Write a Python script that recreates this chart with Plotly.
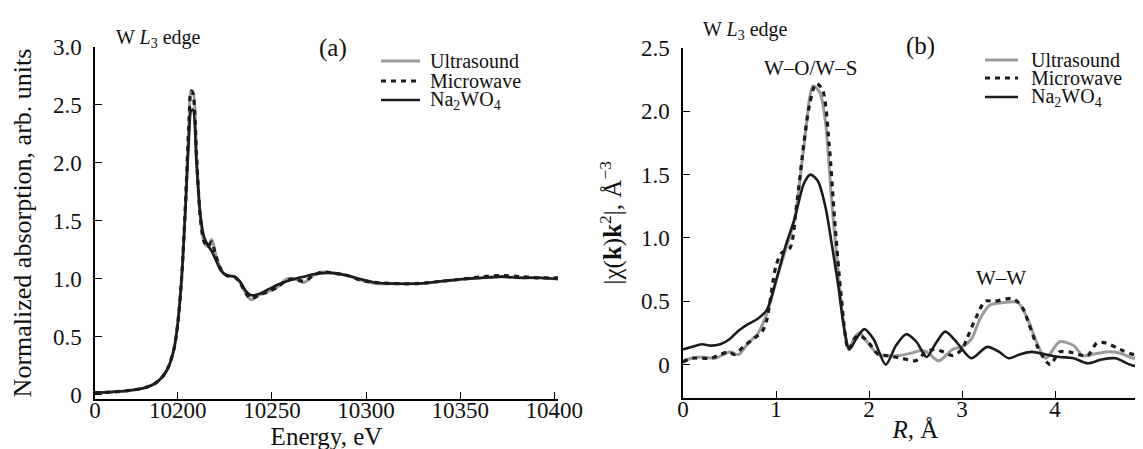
import plotly.graph_objects as go

# ---- panel (a): XANES, W L3 edge ----
energy = [10156, 10165, 10175, 10183, 10188, 10192, 10195, 10198, 10200, 10202,
          10204, 10206, 10207, 10208, 10210, 10212, 10214, 10216, 10218, 10220,
          10223, 10226, 10230, 10233, 10236, 10239, 10243, 10248, 10253, 10258,
          10262, 10267, 10272, 10277, 10283, 10290, 10297, 10305, 10315, 10327,
          10340, 10352, 10362, 10372, 10382, 10392, 10402]
xanes_ultrasound = [0.02, 0.025, 0.04, 0.065, 0.10, 0.16, 0.24, 0.40, 0.62, 1.0,
                    1.62, 2.38, 2.62, 2.62, 2.05, 1.52, 1.32, 1.28, 1.34, 1.22,
                    1.08, 1.03, 1.02, 0.97, 0.88, 0.82, 0.86, 0.89, 0.93, 1.0,
                    1.0, 0.97, 1.03, 1.06, 1.05, 1.03, 0.99, 0.96, 0.96, 0.96,
                    0.98, 1.0, 1.01, 1.02, 1.01, 1.01, 1.0]
xanes_microwave = [0.02, 0.025, 0.04, 0.065, 0.10, 0.16, 0.24, 0.40, 0.62, 1.0,
                   1.62, 2.38, 2.62, 2.60, 2.04, 1.52, 1.32, 1.28, 1.32, 1.21,
                   1.08, 1.03, 1.02, 0.97, 0.88, 0.83, 0.86, 0.89, 0.93, 0.99,
                   1.0, 0.98, 1.03, 1.06, 1.05, 1.03, 0.99, 0.97, 0.96, 0.96,
                   0.98, 1.0, 1.02, 1.03, 1.02, 1.01, 1.01]
xanes_na2wo4 = [0.02, 0.025, 0.04, 0.065, 0.10, 0.16, 0.24, 0.40, 0.62, 1.0,
                1.58, 2.25, 2.45, 2.46, 1.98, 1.55, 1.36, 1.29, 1.24, 1.17,
                1.07, 1.03, 1.02, 0.98, 0.90, 0.86, 0.87, 0.91, 0.95, 0.98,
                1.0, 1.02, 1.04, 1.05, 1.05, 1.03, 1.0, 0.97, 0.96, 0.96,
                0.98, 1.0, 1.01, 1.02, 1.01, 1.01, 1.0]

# ---- panel (b): Fourier transforms ----
r_ultrasound = [0, 0.1, 0.2, 0.35, 0.5, 0.6, 0.7, 0.8, 0.9, 1.0,
                1.1, 1.2, 1.3, 1.4, 1.47, 1.53, 1.6, 1.67, 1.73, 1.78,
                1.85, 1.9, 2.0, 2.1, 2.3, 2.45, 2.55, 2.62, 2.75, 2.9,
                3.0, 3.1, 3.2, 3.3, 3.45, 3.6, 3.7, 3.8, 3.9, 4.05,
                4.2, 4.3, 4.4, 4.55, 4.7, 4.85, 5.0]
ft_ultrasound = [0.03, 0.05, 0.06, 0.05, 0.1, 0.08, 0.17, 0.24, 0.4, 0.66,
                 0.9, 1.15, 1.72, 2.2, 2.15, 1.93, 1.28, 0.72, 0.3, 0.12,
                 0.22, 0.25, 0.16, 0.08, 0.07, 0.09, 0.11, 0.1, 0.03, 0.12,
                 0.14, 0.2, 0.37, 0.47, 0.49, 0.49, 0.37, 0.18, 0.05, 0.18,
                 0.15, 0.07, 0.08, 0.1, 0.09, 0.05, 0.1]
r_microwave = [0, 0.1, 0.3, 0.4, 0.5, 0.55, 0.65, 0.75, 0.85, 0.9,
               1.0, 1.06, 1.15, 1.22, 1.3, 1.36, 1.43, 1.5, 1.57, 1.63,
               1.7, 1.78, 1.85, 1.9, 2.0, 2.1, 2.2, 2.35, 2.5, 2.6,
               2.7, 2.8, 2.9, 3.0, 3.05, 3.15, 3.25, 3.35, 3.55, 3.65,
               3.72, 3.8, 3.88, 3.95, 4.05, 4.15, 4.25, 4.35, 4.45, 4.55,
               4.7, 4.85, 5.0]
ft_microwave = [0.02, 0.05, 0.05, 0.08, 0.1, 0.08, 0.14, 0.2, 0.26, 0.35,
                0.78, 0.88, 0.92, 1.25, 1.75, 2.05, 2.22, 2.17, 1.75, 1.15,
                0.55, 0.12, 0.21, 0.23, 0.17, 0.08, 0.07, 0.05, 0.03, 0.09,
                0.12, 0.1, 0.07, 0.12, 0.2, 0.37, 0.5, 0.5, 0.52, 0.45,
                0.32, 0.16, 0.05, 0.0, 0.1, 0.1, 0.08, 0.07, 0.17, 0.17,
                0.12, 0.08, 0.1]
r_na2wo4 = [0, 0.1, 0.2, 0.3, 0.4, 0.5, 0.6, 0.7, 0.8, 0.9,
            1.0, 1.1, 1.2, 1.3, 1.37, 1.45, 1.53, 1.6, 1.67, 1.73,
            1.79, 1.86, 1.95, 2.05, 2.18, 2.29, 2.4, 2.51, 2.62, 2.72,
            2.82, 2.95, 3.1, 3.27, 3.4, 3.5, 3.62, 3.75, 3.9, 4.05,
            4.2, 4.35, 4.5, 4.65, 4.85, 5.0]
ft_na2wo4 = [0.12, 0.14, 0.16, 0.15, 0.16, 0.2, 0.27, 0.32, 0.36, 0.43,
             0.66, 0.93, 1.15, 1.43, 1.5, 1.45, 1.25, 0.95, 0.62, 0.3,
             0.12, 0.2, 0.28, 0.2, 0.0, 0.15, 0.24, 0.18, 0.06, 0.17,
             0.26, 0.17, 0.05, 0.14, 0.1, 0.05, 0.08, 0.1, 0.08, 0.06,
             0.05, 0.01, 0.04, 0.05, -0.01, 0.03]

names = ["Ultrasound", "Microwave", "Na<sub>2</sub>WO<sub>4</sub>"]
GRAY = "#9b9b9b"
BLACK = "#1c1c1c"
TXT = "#111"
FONT = "Liberation Serif"
W, H = 1143, 449

styles = [dict(color=GRAY, width=3),
          dict(color=BLACK, width=3.2, dash="5px,5px"),
          dict(color=BLACK, width=2.6)]

fig = go.Figure()

for name, ys, st in zip(names, [xanes_ultrasound, xanes_microwave, xanes_na2wo4], styles):
    fig.add_trace(go.Scatter(x=energy, y=ys, name=name, mode="lines",
                             line=dict(shape="spline", smoothing=0.8, **st),
                             xaxis="x", yaxis="y"))

for name, xs, ys, st in zip(names, [r_ultrasound, r_microwave, r_na2wo4],
                            [ft_ultrasound, ft_microwave, ft_na2wo4], styles):
    fig.add_trace(go.Scatter(x=xs, y=ys, name=name, mode="lines",
                             line=dict(shape="spline", smoothing=0.8, **st),
                             xaxis="x2", yaxis="y2"))


def ax(domain, rng, tickvals, ticktext, title, anchor, size, standoff, lab_off):
    return dict(domain=domain, range=rng, tickvals=tickvals, ticktext=ticktext,
                anchor=anchor, showline=True, linecolor="black", linewidth=1.5,
                ticks="inside", ticklen=7, tickwidth=1.3, tickcolor="black",
                showgrid=False, zeroline=False, automargin=False,
                ticklabelstandoff=lab_off,
                tickfont=dict(family=FONT, size=23, color=TXT),
                title=dict(text=title, font=dict(family=FONT, size=size, color=TXT),
                           standoff=standoff))


e_ticks = [10156, 10200, 10250, 10300, 10350, 10400]
a_ticks = [0, 0.5, 1.0, 1.5, 2.0, 2.5, 3.0]
r_ticks = [0, 1, 2, 3, 4, 5]
b_ticks = [0, 0.5, 1.0, 1.5, 2.0, 2.5]

fig.update_layout(
    width=W, height=H, autosize=False,
    margin=dict(l=0, r=0, t=0, b=0),
    paper_bgcolor="white", plot_bgcolor="white",
    font=dict(family=FONT, color=TXT),
    showlegend=False,
    xaxis=ax([87 / W, 550 / W], [10156, 10402], e_ticks,
             ["0"] + [str(v) for v in e_ticks[1:]], "Energy, eV", "y", 25, 0, -10),
    yaxis=ax([1 - 391 / H, 1 - 39 / H], [-0.035, 3.0], a_ticks,
             ["0", "0.5", "1.0", "1.5", "2.0", "2.5", "3.0"],
             "Normalized absorption, arb. units", "x", 26, 16, 7),
    xaxis2=ax([675 / W, 1140 / W], [0, 5], r_ticks, [str(v) for v in r_ticks],
              "<i>R</i>, Å", "y2", 25, 0, -10),
    yaxis2=ax([1 - 389.5 / H, 1 - 40 / H], [-0.26, 2.5], b_ticks,
              ["0", "0.5", "1.0", "1.5", "2.0", "2.5"],
              "|χ(<b>k</b>)<b>k</b><sup>2</sup>|, Å<sup>−3</sup>", "x2", 25, 12, 7),
)

# hand-placed legends (tight row spacing as in the original)
leg_font = dict(family=FONT, size=20, color=TXT)
legend_spots = [(373, 412, 420, [53, 73, 92]), (977, 1010, 1021, [52, 70, 89])]
for k0, k1, tx, rows in legend_spots:
    for name, st, ry in zip(names, styles, rows):
        fig.add_shape(type="line", xref="paper", yref="paper",
                      x0=k0 / W, x1=k1 / W, y0=1 - ry / H, y1=1 - ry / H,
                      line=dict(color=st["color"], width=st["width"],
                                dash=st.get("dash", "solid")))
        fig.add_annotation(text=name, xref="paper", yref="paper",
                           x=tx / W, y=1 - ry / H, xanchor="left", yanchor="middle",
                           showarrow=False, font=leg_font)

ann_font = dict(family=FONT, size=20, color=TXT)
fig.add_annotation(text="W <i>L</i><sub>3</sub> edge", xref="paper", yref="paper",
                   x=106 / W, y=1 - 30 / H, xanchor="left", yanchor="middle",
                   showarrow=False, font=ann_font)
fig.add_annotation(text="W <i>L</i><sub>3</sub> edge", xref="paper", yref="paper",
                   x=693 / W, y=1 - 23 / H, xanchor="left", yanchor="middle",
                   showarrow=False, font=ann_font)
fig.add_annotation(text="(a)", xref="paper", yref="paper", x=325 / W, y=1 - 40 / H,
                   xanchor="center", yanchor="middle",
                   showarrow=False, font=dict(family=FONT, size=25, color=TXT))
fig.add_annotation(text="(b)", xref="paper", yref="paper", x=912 / W, y=1 - 38 / H,
                   xanchor="center", yanchor="middle",
                   showarrow=False, font=dict(family=FONT, size=25, color=TXT))
fig.add_annotation(text="W–O/W–S", xref="x2", yref="y2", x=1.37, y=2.34,
                   showarrow=False, font=dict(family=FONT, size=21, color=TXT))
fig.add_annotation(text="W–W", xref="x2", yref="y2", x=3.42, y=0.68,
                   showarrow=False, font=dict(family=FONT, size=21, color=TXT))

fig.write_html("out.html")
